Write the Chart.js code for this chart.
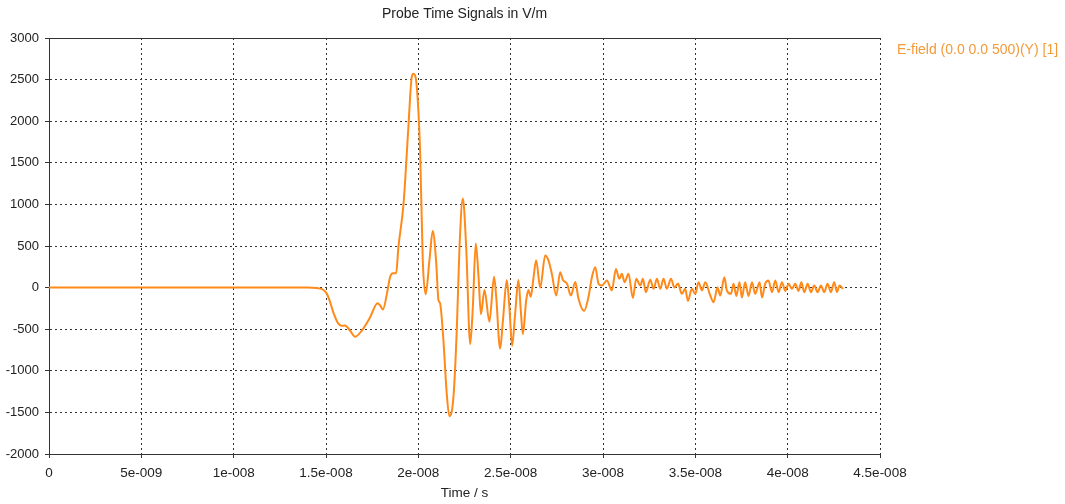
<!DOCTYPE html>
<html>
<head>
<meta charset="utf-8">
<script src="https://cdn.jsdelivr.net/npm/chart.js@4/dist/chart.umd.min.js"></script>
<style>
  html, body { margin: 0; padding: 0; background: #fff; }
  #wrap { width: 1065px; height: 504px; }
</style>
</head>
<body>
<div id="wrap"><canvas id="probe"></canvas></div>
<script>
// Tiempos en ns, valores en V/m
const timeNs = [
  0, 14.0, 14.5, 14.8, 15.04, 15.2, 15.4, 15.66, 15.85, 16.03, 16.3, 16.58, 16.94, 17.39, 17.79, 17.95,
  18.08, 18.33, 18.47, 18.62, 18.8, 18.92, 19.2, 19.46, 19.64, 19.74, 19.92, 20.1, 20.24, 20.4, 20.6,
  20.78, 20.96, 21.09, 21.18, 21.36, 21.54, 21.68, 21.9, 22.08, 22.23, 22.41, 22.59, 22.81, 22.95, 23.11,
  23.26, 23.39, 23.58, 23.85, 24.1, 24.21, 24.43, 24.58, 24.79, 24.93, 25.08, 25.24, 25.42, 25.55, 25.66,
  25.84, 25.96, 26.09, 26.24, 26.38, 26.6, 26.87, 27.05, 27.23, 27.47, 27.68, 27.83, 28.05, 28.26, 28.5,
  28.67, 28.98, 29.21, 29.4, 29.58, 29.76, 29.94, 30.21, 30.48, 30.7, 30.88, 31.02, 31.17, 31.38, 31.62,
  31.8, 32.02, 32.16, 32.32, 32.56, 32.74, 32.92, 33.1, 33.28, 33.46, 33.68, 33.87, 34.06, 34.27, 34.45,
  34.6, 34.81, 35.0, 35.17, 35.36, 35.54, 35.81, 35.99, 36.2, 36.35, 36.57, 36.71, 36.93, 37.07, 37.22,
  37.39, 37.52, 37.7, 37.88, 38.07, 38.24, 38.48, 38.61, 38.78, 38.96, 39.15, 39.33, 39.51, 39.69, 39.87,
  40.05, 40.23, 40.41, 40.59, 40.74, 40.9, 41.08, 41.26, 41.44, 41.62, 41.8, 41.98, 42.16, 42.34, 42.52,
  42.67, 42.81, 42.99
];
const efield = [
  0, 0, -5, -20, -72, -160, -300, -430, -460, -455, -516, -590, -516, -356, -188, -220,
  -264, -36, 127, 172, 175, 484, 1010, 1925, 2527, 2570, 2404, 1607, 327, -80, 327,
  680, 327, -150, -190, -640, -1280, -1545, -1320, -520, 490, 1070, 490, -680, -240, 530,
  130, -320, -30, -410, 130, -90, -735, -400, 90, -235, -700, -320, 90, -280, -560,
  -155, -30, -110, 125, 330, 0, 385, 325, 165, -95, 185, 90, 48, -95, 68,
  -130, -280, -115, 125, 245, 45, 25, 85, -35, 225, 105, 165, 65, 165, -125,
  105, 25, 105, -55, 95, -15, 105, -15, 105, -15, 105, 0, 50, -75, -15,
  -160, -15, -75, 65, -35, 65, -95, -175, 0, -95, 125, -35, -75, 45, -100,
  65, -120, 65, -100, 65, -75, 65, -120, 45, 85, -55, 85, -55, 65, -40,
  45, -15, 45, -40, 65, -55, 45, -55, 25, -55, 25, -55, 45, -55, 65,
  -55, 25, -15
];

const xTicks = [0, 5e-9, 1e-8, 1.5e-8, 2e-8, 2.5e-8, 3e-8, 3.5e-8, 4e-8, 4.5e-8];
const xTickLabels = ['0', '5e-009', '1e-008', '1.5e-008', '2e-008', '2.5e-008', '3e-008', '3.5e-008', '4e-008', '4.5e-008'];
const yTicks = [-2000, -1500, -1000, -500, 0, 500, 1000, 1500, 2000, 2500, 3000];

const seriesLabel = 'E-field (0.0 0.0 500)(Y) [1]';
const chartTitle = 'Probe Time Signals in V/m';

const FONT = "'Liberation Sans', Arial, sans-serif";
const LINE_COLOR = '#ff8a1a';

// Título y leyenda dibujados a mano para clavar la posición
const textPlugin = {
  id: 'probeText',
  afterDraw(chart) {
    const { ctx, chartArea } = chart;
    ctx.save();
    ctx.font = '14px ' + FONT;
    ctx.textBaseline = 'middle';
    ctx.fillStyle = '#222';
    ctx.textAlign = 'center';
    ctx.fillText(chartTitle, (chartArea.left + chartArea.right) / 2, 14);
    ctx.fillStyle = '#f39a3a';
    ctx.textAlign = 'left';
    ctx.fillText(seriesLabel, chartArea.right + 17, 50);
    ctx.restore();
  }
};

new Chart(document.getElementById('probe'), {
  type: 'line',
  plugins: [textPlugin],
  data: {
    datasets: [{
      label: seriesLabel,
      data: timeNs.map((t, i) => ({ x: t * 1e-9, y: efield[i] })),
      borderColor: LINE_COLOR,
      borderWidth: 2,
      pointRadius: 0,
      cubicInterpolationMode: 'monotone',
      fill: false
    }]
  },
  options: {
    responsive: true,
    maintainAspectRatio: false,
    animation: false,
    layout: { padding: { top: 38, right: 185, left: 0, bottom: 0 } },
    plugins: { legend: { display: false }, title: { display: false }, tooltip: { enabled: false } },
    scales: {
      x: {
        type: 'linear',
        min: 0,
        max: 4.5e-8,
        afterBuildTicks: (axis) => { axis.ticks = xTicks.map(v => ({ value: v })); },
        afterFit: (axis) => { axis.height = 50; },
        ticks: {
          autoSkip: false,
          maxRotation: 0,
          padding: 7,
          color: '#222',
          font: { family: FONT, size: 13.5 },
          callback: (v, i) => xTickLabels[i]
        },
        grid: { color: '#333', lineWidth: 1, tickLength: 4, tickColor: '#333' },
        border: { display: true, color: '#333', width: 1, dash: [2, 3] },
        title: {
          display: true,
          text: 'Time / s',
          color: '#222',
          font: { family: FONT, size: 13.5 },
          padding: { top: 0, bottom: 3 }
        }
      },
      y: {
        min: -2000,
        max: 3000,
        afterBuildTicks: (axis) => { axis.ticks = yTicks.map(v => ({ value: v })); },
        afterFit: (axis) => { axis.width = 49; },
        ticks: {
          autoSkip: false,
          padding: 6,
          color: '#222',
          font: { family: FONT, size: 13 },
          callback: (v) => String(v)
        },
        grid: { color: '#333', lineWidth: 1, tickLength: 4, tickColor: '#333' },
        border: {
          display: true,
          color: '#333',
          width: 1,
          dash: (ctx) => (ctx.tick && ctx.tick.value === 3000 ? [] : [2, 3])
        }
      }
    }
  }
});
</script>
</body>
</html>
